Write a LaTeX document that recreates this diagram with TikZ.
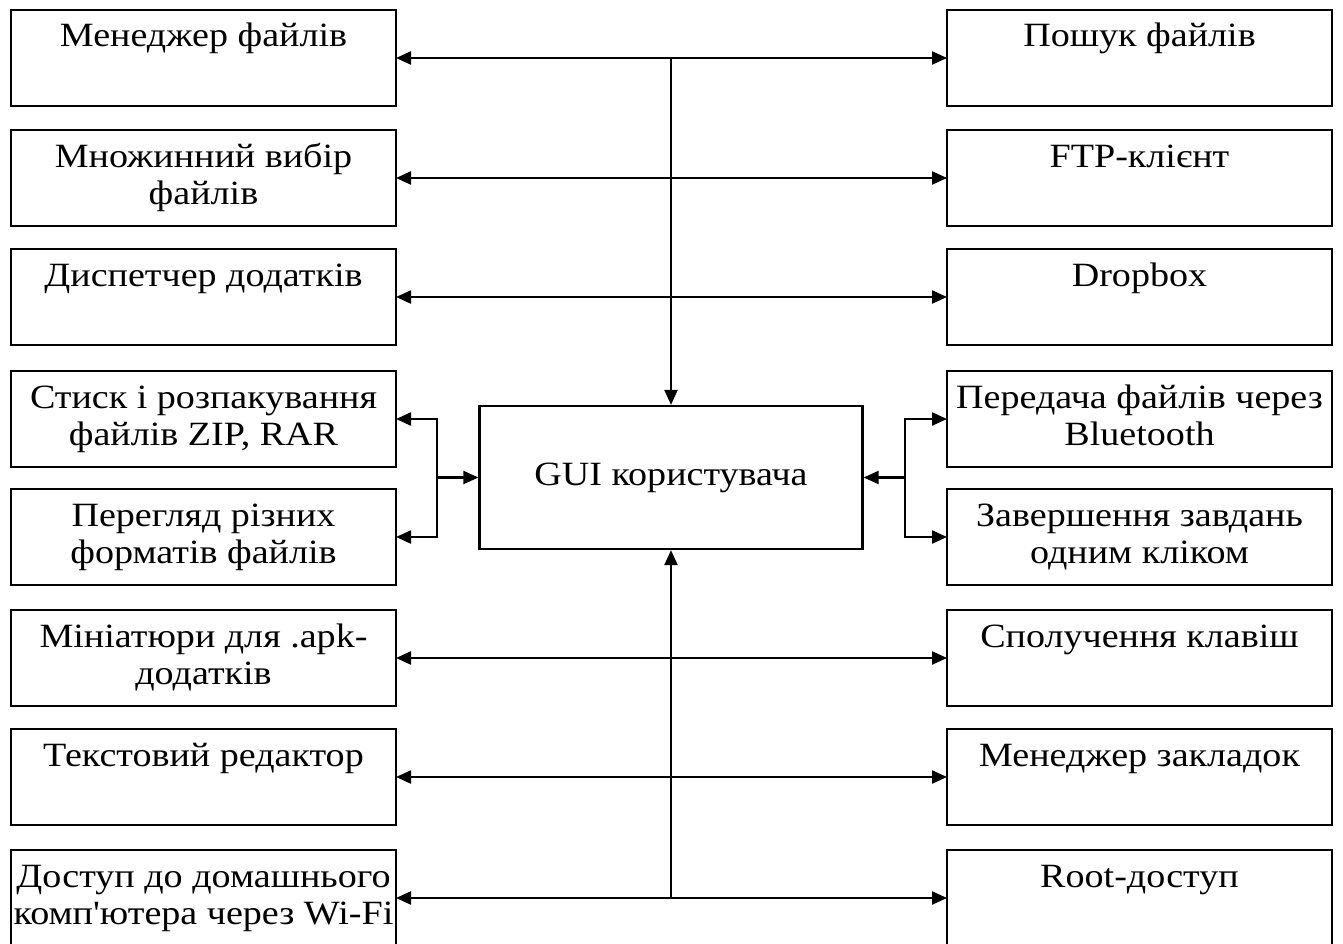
\documentclass[tikz,border=0pt]{standalone}
\usepackage{fontspec}
\setmainfont{Liberation Serif}[Ligatures=TeXOff, FakeStretch=1.12]
\usetikzlibrary{arrows.meta}

% text of a block: lines centred, first baseline 37pt below the top edge
\newcommand\cell[1]{\parbox[b][96pt][t]{385pt}{\centering\rule{0pt}{37pt}#1}}
\newcommand\wide[1]{\makebox[\linewidth][c]{#1}}

\tikzset{
  x=1pt, y=-1pt,
  every node/.style={font=\fontsize{34}{37}\selectfont},
  blk/.style={draw, line width=2.2pt, inner sep=0pt, outer sep=0pt, anchor=north west},
  link/.style={line width=2.2pt, line join=miter},
  tipL/.style={link, -{Triangle[length=15pt,width=13pt]}},
  tipLR/.style={link, {Triangle[length=15pt,width=13pt]}-{Triangle[length=15pt,width=13pt]}},
}

\begin{document}
\begin{tikzpicture}
\useasboundingbox (0,0) rectangle (1343,944);
\clip (0,0) rectangle (1343,944);

% left column
\node[blk] (L1) at (11,10)  {\cell{Менеджер файлів}};
\node[blk] (L2) at (11,130) {\cell{Множинний вибір\\файлів}};
\node[blk] (L3) at (11,249) {\cell{Диспетчер додатків}};
\node[blk] (L4) at (11,371) {\cell{Стиск і розпакування\\файлів ZIP, RAR}};
\node[blk] (L5) at (11,489) {\cell{Перегляд різних\\форматів файлів}};
\node[blk] (L6) at (11,610) {\cell{Мініатюри для .apk-\\додатків}};
\node[blk] (L7) at (11,729) {\cell{Текстовий редактор}};
\node[blk] (L8) at (11,850) {\cell{\wide{Доступ до домашнього}\\\wide{комп'ютера через Wi-Fi}}};

% right column
\node[blk] (R1) at (947,10)  {\cell{Пошук файлів}};
\node[blk] (R2) at (947,130) {\cell{FTP-клієнт}};
\node[blk] (R3) at (947,249) {\cell{Dropbox}};
\node[blk] (R4) at (947,371) {\cell{Передача файлів через\\Bluetooth}};
\node[blk] (R5) at (947,489) {\cell{Завершення завдань\\одним кліком}};
\node[blk] (R6) at (947,610) {\cell{Сполучення клавіш}};
\node[blk] (R7) at (947,729) {\cell{Менеджер закладок}};
\node[blk] (R8) at (947,850) {\cell{Root-доступ}};

% central block
\node[draw, line width=2.2pt, minimum width=383pt, minimum height=143pt,
      inner sep=0pt] (gui) at (671,477.5) {GUI користувача};

% bracket columns
\coordinate (lb) at (437,0);
\coordinate (rb) at (905,0);

% rows crossing the trunk
\foreach \r in {1,2,3,6,7,8}
  \draw[tipLR] (L\r.east) -- (R\r.west);

% trunk
\draw[tipL] (gui.north |- L1.east) -- (gui.north);
\draw[tipL] (gui.south |- L8.east) -- (gui.south);

% left bracket
\draw[tipLR] (L4.east) -- (lb |- L4.east) -- (lb |- L5.east) -- (L5.east);
\draw[tipL] (lb |- gui.west) -- (gui.west);

% right bracket
\draw[tipLR] (R4.west) -- (rb |- R4.west) -- (rb |- R5.west) -- (R5.west);
\draw[tipL] (rb |- gui.east) -- (gui.east);
\end{tikzpicture}
\end{document}
